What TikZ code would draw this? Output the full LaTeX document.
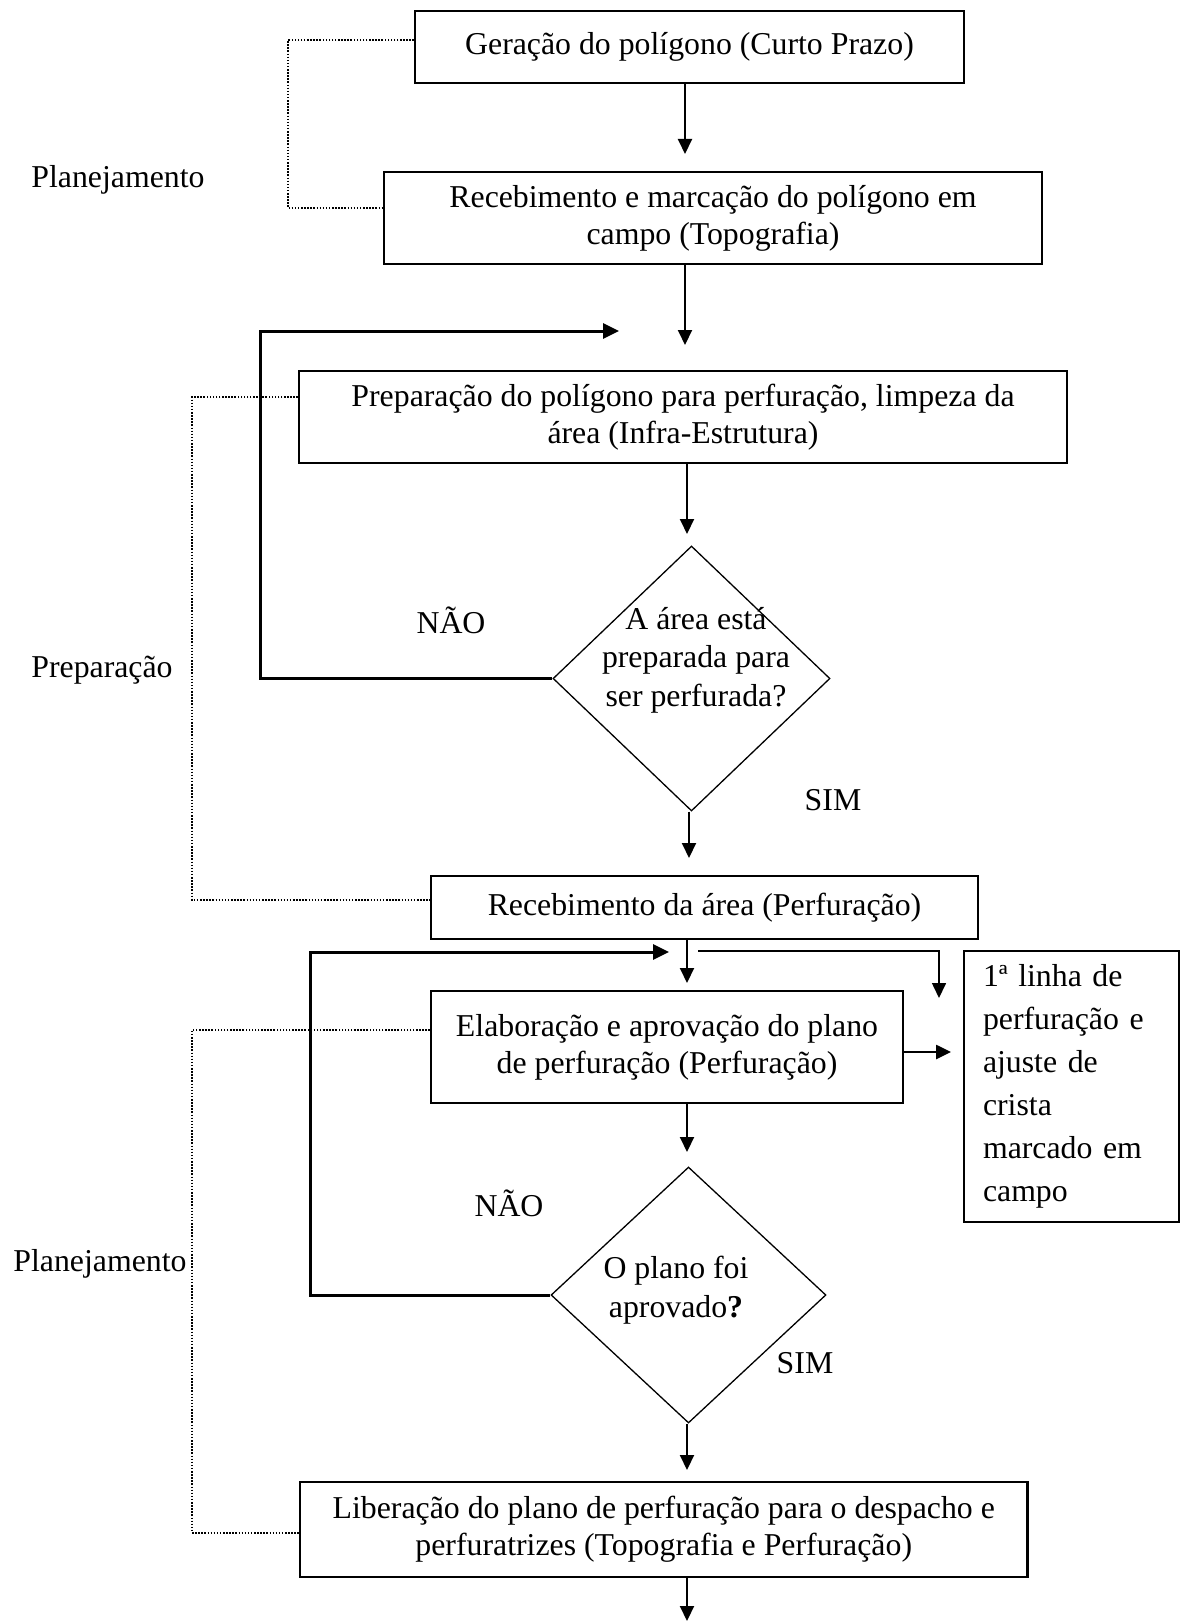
\documentclass[tikz,border=0pt]{standalone}
\usepackage{fontspec}
\setmainfont{Liberation Serif}
\usetikzlibrary{shapes.geometric,arrows.meta}
\begin{document}
\begin{tikzpicture}[x=1pt,y=-1pt,
  every node/.style={font=\fontsize{31.8}{37}\selectfont},
  box/.style={draw,line width=2.2pt,inner sep=0pt,align=center},
  dia/.style={draw,diamond,line width=1.3pt,inner sep=0pt},
  dtext/.style={align=center,inner sep=0pt,font=\fontsize{31.8}{38.5}\selectfont},
  arr/.style={line width=2pt,-{Triangle[length=15pt,width=14pt]}},
  looparr/.style={line width=3pt,-{Triangle[length=16pt,width=15pt]}},
  dots/.style={line width=1.6pt,dash pattern=on 1.5pt off 1.6pt},
]
\useasboundingbox (0,0) rectangle (1183,1621);

% boxes
\node[box,minimum width=549pt,minimum height=72pt] (b1) at (689.5,47) {Geração do polígono (Curto Prazo)};
\node[box,minimum width=658pt,minimum height=92pt] (b2) at (713,218) {Recebimento e marcação do polígono em\\campo (Topografia)};
\node[box,minimum width=768pt,minimum height=92pt] (b3) at (683,417) {Preparação do polígono para perfuração, limpeza da\\área (Infra-Estrutura)};
\node[dia,minimum width=277pt,minimum height=265pt] (d1) at (691.5,678.5) {};
\node[dtext] (d1t) at (696,660) {A área está\\preparada para\\ser perfurada?};
\node[box,minimum width=547pt,minimum height=63pt] (b4) at (704.5,907.5) {Recebimento da área (Perfuração)};
\node[box,minimum width=472pt,minimum height=112pt] (b5) at (667,1047) {Elaboração e aprovação do plano\\de perfuração (Perfuração)};
\node[draw,line width=2.2pt,inner xsep=19pt,inner ysep=0pt,text width=177pt,align=left,minimum height=271pt,font=\fontsize{31.8}{43}\selectfont] (b6) at (1071.5,1086.5) {1ª linha de\\perfuração e\\ajuste de\\crista\\marcado em\\campo};
\node[dia,minimum width=275pt,minimum height=256pt] (d2) at (688.5,1295) {};
\node[dtext] (d2t) at (676,1290) {O plano foi\\aprovado\textbf{?}};
\node[box,minimum width=727.5pt,minimum height=95pt] (b7) at (663.75,1529.5) {Liberação do plano de perfuração para o despacho e\\perfuratrizes (Topografia e Perfuração)};

% labels
\node (lp1) at (118,180) {Planejamento};
\node (lp2) at (102,670) {Preparação};
\node (lp3) at (100,1264) {Planejamento};
\node (n1) at (451,620) {NÃO};
\node (n2) at (509,1203) {NÃO};
\node (s1) at (833,800) {SIM};
\node (s2) at (805,1363) {SIM};

% arrow ends
\coordinate (t1) at (685,154);
\coordinate (t2) at (685,345);
\coordinate (t3) at (687,534);
\coordinate (t4) at (689,858);
\coordinate (t5) at (687,983);
\coordinate (t6) at (687,1152);
\coordinate (t7) at (687,1470);
\coordinate (t8) at (687,1621);
\draw[arr] (b1.south -| t1) -- (t1);
\draw[arr] (b2.south -| t2) -- (t2);
\draw[arr] (b3.south -| t3) -- (t3);
\draw[arr] (d1.south -| t4) -- (t4);
\draw[arr] (b4.south -| t5) -- (t5);
\draw[arr] (b5.south -| t6) -- (t6);
\draw[arr] (d2.south -| t7) -- (t7);
\draw[arr] (b7.south -| t8) -- (t8);

% loops
\coordinate (c1) at (260,331);
\coordinate (l1) at (619,331);
\draw[looparr] (d1.west) -| (c1) -- (l1);
\coordinate (c2) at (310,952);
\coordinate (l2) at (669,952);
\draw[looparr] (d2.west) -| (c2) -- (l2);

% right branch
\coordinate (r0) at (698,951);
\coordinate (r1) at (939,998);
\draw[line width=1.6pt,-{Triangle[length=15pt,width=14pt]}] (r0) -| (r1);
\coordinate (r2) at (951,1052);
\draw[line width=2.6pt,-{Triangle[length=15pt,width=14pt]}] (b5.east |- r2) -- (r2);

% dotted brackets
\coordinate (p1) at (288,40);
\coordinate (p2) at (288,208);
\draw[dots] (b1.west |- p1) -- (p1) -- (p2) -- (b2.west |- p2);
\coordinate (p3) at (192,397);
\coordinate (p4) at (192,900);
\draw[dots] (b3.west |- p3) -- (p3) -- (p4) -- (b4.west |- p4);
\coordinate (p5) at (192,1030);
\coordinate (p6) at (192,1533);
\draw[dots] (b5.west |- p5) -- (p5) -- (p6) -- (b7.west |- p6);
\end{tikzpicture}
\end{document}
